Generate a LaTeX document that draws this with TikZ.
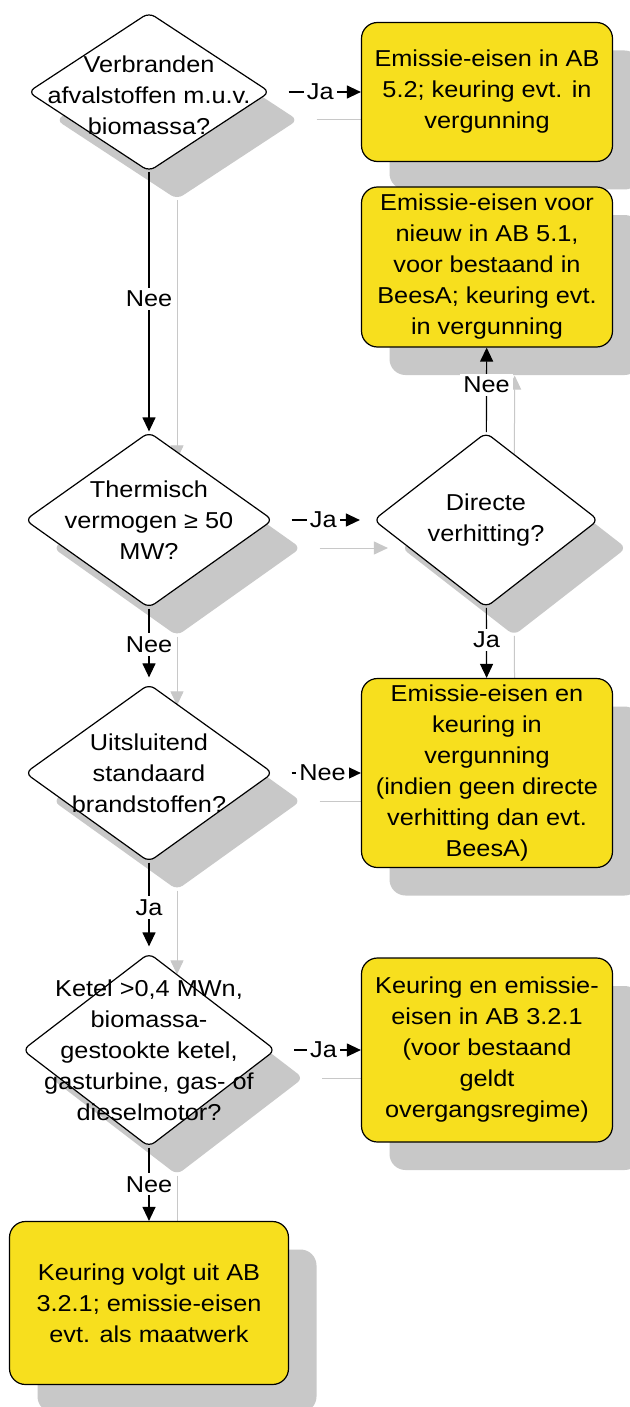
\documentclass[tikz,border=0pt]{standalone}
\usepackage{fontspec}
\setmainfont{Liberation Sans}[FakeStretch=1.1]
\usetikzlibrary{shapes.geometric,arrows.meta,shadows,backgrounds}
\definecolor{boxyellow}{RGB}{247,223,30}
\definecolor{shadowgrey}{RGB}{200,200,200}
\begin{document}
\begin{tikzpicture}[x=1pt,y=-1pt,
  every node/.style={font=\fontsize{23}{31}\selectfont},
  nodeshadow/.style={drop shadow={shadow xshift=28pt, shadow yshift=-28pt, opacity=1, fill=shadowgrey}},
  decision/.style={shape=diamond, draw=black, line width=1.2pt, fill=white, rounded corners=7pt, inner sep=0pt, nodeshadow},
  outcome/.style={shape=rectangle, draw=black, line width=1.2pt, fill=boxyellow, rounded corners=16pt, inner sep=0pt, align=center, nodeshadow},
  conn/.style={draw=black, line width=1.2pt, -{Triangle[length=14pt,width=13pt]}},
  connshadow/.style={draw=shadowgrey, line width=1pt, -{Triangle[length=14pt,width=13pt]}, transform canvas={shift={(28pt,-28pt)}}},
  lbl/.style={fill=white, inner sep=3pt},
  dtext/.style={align=center}
]
\begin{pgfonlayer}{background}
  \fill[white] (0,0) rectangle (629,1407);
\end{pgfonlayer}
\useasboundingbox (0,0) rectangle (629,1407);

% decisions
\node[decision, minimum width=242pt, minimum height=159pt,
  label={[dtext, yshift=-3pt]center:Verbranden\\afvalstoffen m.u.v.\\biomassa?}] (d1) at (149,92) {};
\node[decision, minimum width=248pt, minimum height=176pt,
  label={[dtext]center:Thermisch\\vermogen ≥ 50\\MW?}] (d2) at (149,520) {};
\node[decision, minimum width=225pt, minimum height=175pt,
  label={[dtext]center:Directe\\verhitting?}] (d3) at (486,520) {};
\node[decision, minimum width=248pt, minimum height=178pt,
  label={[dtext]center:Uitsluitend\\standaard\\brandstoffen?}] (d4) at (149,773) {};
\node[decision, minimum width=253pt, minimum height=194pt,
  label={[dtext]center:Ketel >0,4 MWn,\\biomassa-\\gestookte ketel,\\gasturbine, gas- of\\dieselmotor?}] (d5) at (149,1050) {};

% outcomes
\node[outcome, minimum width=251pt, minimum height=139pt] (b1) at (487,92)
  {Emissie-eisen in AB\\5.2; keuring evt. in\\vergunning};
\node[outcome, minimum width=251pt, minimum height=160pt] (b2) at (487,267)
  {Emissie-eisen voor\\nieuw in AB 5.1,\\voor bestaand in\\BeesA; keuring evt.\\in vergunning};
\node[outcome, minimum width=251pt, minimum height=189pt] (b3) at (487,773)
  {Emissie-eisen en\\keuring in\\vergunning\\(indien geen directe\\verhitting dan evt.\\BeesA)};
\node[outcome, minimum width=251pt, minimum height=184pt] (b4) at (487,1050)
  {Keuring en emissie-\\eisen in AB 3.2.1\\(voor bestaand\\geldt\\overgangsregime)};
\node[outcome, minimum width=279pt, minimum height=163pt] (b5) at (149,1303)
  {Keuring volgt uit AB\\3.2.1; emissie-eisen\\evt. als maatwerk};

% connector shadows
\begin{pgfonlayer}{background}
  \draw[connshadow, shorten <=18pt] (d1) -- (b1);
  \draw[connshadow] (d1) -- (d2);
  \draw[connshadow, shorten <=18pt, shorten >=13pt] (d2) -- (d3);
  \draw[connshadow] (d3) -- (b2);
  \draw[connshadow] (d3) -- (b3);
  \draw[connshadow, shorten >=6pt] (d2) -- (d4);
  \draw[connshadow, shorten <=18pt] (d4) -- (b3);
  \draw[connshadow, shorten >=6pt] (d4) -- (d5);
  \draw[connshadow, shorten <=18pt] (d5) -- (b4);
  \draw[connshadow] (d5) -- (b5);
\end{pgfonlayer}

% connectors
\draw[conn, shorten <=18pt] (d1) -- node[lbl, pos=0.55] (l1) {Ja} (b1);
\draw[conn] (d1) -- node[lbl, pos=0.49] (l2) {Nee} (d2);
\draw[conn, shorten <=18pt, shorten >=13pt] (d2) -- node[lbl, pos=0.5] (l3) {Ja} (d3);
\draw[conn] (d3) -- node[lbl, pos=0.56] (l4) {Nee} (b2);
\draw[conn] (d3) -- node[lbl, pos=0.46] (l5) {Ja} (b3);
\draw[conn, shorten >=6pt] (d2) -- node[lbl, pos=0.48] (l6) {Nee} (d4);
\draw[conn, shorten <=18pt] (d4) -- node[lbl, pos=0.56] (l7) {Nee} (b3);
\draw[conn, shorten >=6pt] (d4) -- node[lbl, pos=0.5] (l8) {Ja} (d5);
\draw[conn, shorten <=18pt] (d5) -- node[lbl, pos=0.56] (l9) {Ja} (b4);
\draw[conn] (d5) -- node[lbl, pos=0.5] (l10) {Nee} (b5);
\end{tikzpicture}
\end{document}
